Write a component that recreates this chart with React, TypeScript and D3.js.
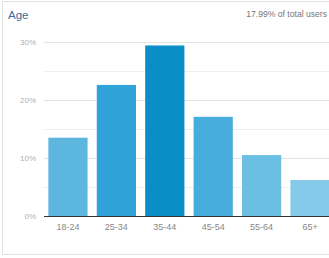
import React from "react";
import * as d3 from "d3";

const categories = ["18-24", "25-34", "35-44", "45-54", "55-64", "65+"];
const values = [13.5, 22.6, 29.4, 17.1, 10.5, 6.2];
const barColors = ["#5cb6de", "#2fa2d7", "#0a8ec8", "#47aedb", "#6bbfe3", "#85cbe9"];
const yTicks = [0, 10, 20, 30];
const gridTicks = [5, 10, 15, 20, 25, 30];
const title = "Age";
const subtitle = "17.99% of total users";

const W = 329;
const H = 258;
const font = "'Liberation Sans', Arial, sans-serif";

export default function App() {
  const x = d3
    .scaleBand<string>()
    .domain(categories)
    .range([44, 334])
    .paddingInner(0.19)
    .paddingOuter(0.09);
  const y = d3.scaleLinear().domain([0, 30]).range([216, 42]);

  return (
    <svg
      width={W}
      height={H}
      style={{ position: "absolute", left: 0, top: 0, background: "#fff" }}
    >
      <rect x={2.5} y={1.5} width={W + 10} height={253} fill="#fff" stroke="#e2e2e2" strokeWidth={1} />
      <text x={8} y={19} fontFamily={font} fontSize={11.5} fill="#3a6c9a">
        {title}
      </text>
      <text x={327} y={17} textAnchor="end" fontFamily={font} fontSize={8.6} fill="#777">
        {subtitle}
      </text>
      {gridTicks.map((t) => (
        <line
          key={"g" + t}
          x1={44}
          x2={W}
          y1={Math.round(y(t)) + 0.5}
          y2={Math.round(y(t)) + 0.5}
          stroke={t % 10 === 0 ? "#e4e4e4" : "#efefef"}
          strokeWidth={1}
        />
      ))}
      {yTicks.map((t) => (
        <text
          key={"y" + t}
          x={36}
          y={y(t) + 3}
          textAnchor="end"
          fontFamily={font}
          fontSize={8}
          fill="#b0b0b0"
        >
          {t + "%"}
        </text>
      ))}
      {categories.map((c, i) => (
        <rect
          key={c}
          x={x(c)}
          y={y(values[i])}
          width={x.bandwidth()}
          height={y(0) - y(values[i])}
          fill={barColors[i]}
        />
      ))}
      <line x1={44} x2={W} y1={216.5} y2={216.5} stroke="#333" strokeWidth={1} />
      {categories.map((c) => (
        <text
          key={"x" + c}
          x={(x(c) || 0) + x.bandwidth() / 2}
          y={230}
          textAnchor="middle"
          fontFamily={font}
          fontSize={9}
          fill="#888"
        >
          {c}
        </text>
      ))}
    </svg>
  );
}
